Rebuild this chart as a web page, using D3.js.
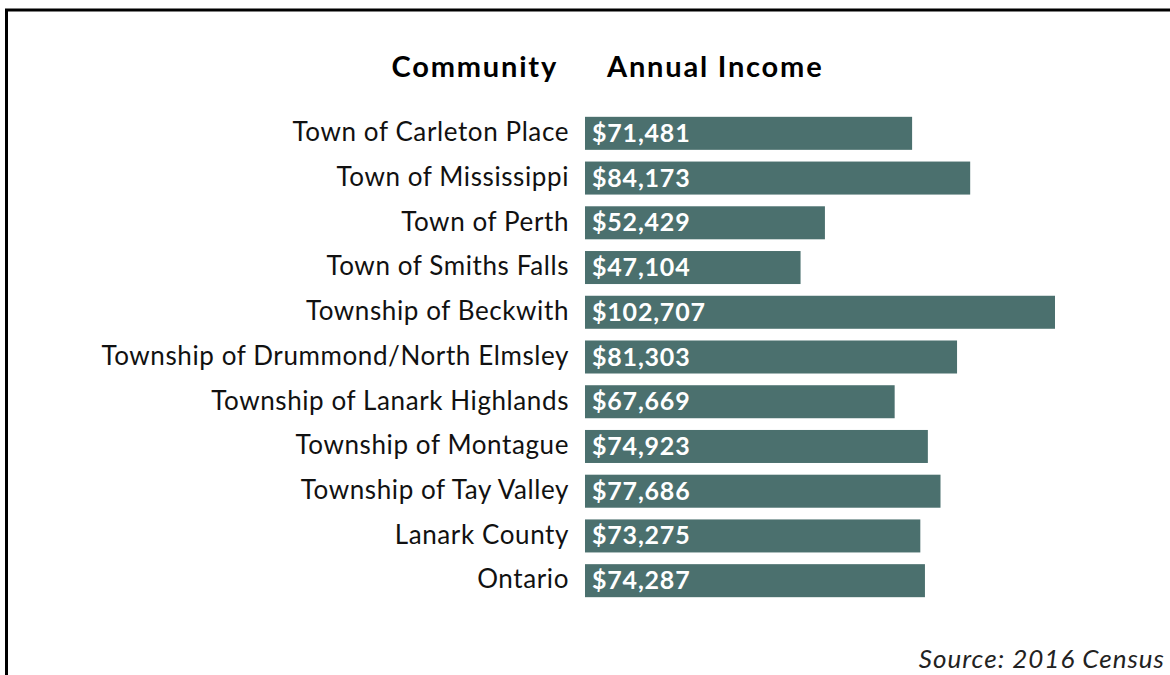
<!DOCTYPE html>
<html>
<head>
<meta charset="utf-8">
<script src="https://cdn.jsdelivr.net/npm/d3@7"></script>
<style>
	body { margin: 0; background: #fff; }
	svg { display: block; font-family: Lato, "Noto Sans", sans-serif; }
</style>
</head>
<body>
<div class="chart"></div>
<script>
const communities = [
	"Town of Carleton Place",
	"Town of Mississippi",
	"Town of Perth",
	"Town of Smiths Falls",
	"Township of Beckwith",
	"Township of Drummond/North Elmsley",
	"Township of Lanark Highlands",
	"Township of Montague",
	"Township of Tay Valley",
	"Lanark County",
	"Ontario"
];
const incomes = [71481, 84173, 52429, 47104, 102707, 81303, 67669, 74923, 77686, 73275, 74287];

(function() {
	const width = 1170, height = 675;
	const barColor = "#4b706e";

	const svg = d3.select(".chart").append("svg")
		.attr("width", width)
		.attr("height", height);

	// frame, only left and top edges show
	svg.append("rect")
		.attr("x", 6.5)
		.attr("y", 10)
		.attr("width", width + 20)
		.attr("height", height + 20)
		.attr("fill", "none")
		.attr("stroke", "#000")
		.attr("stroke-width", 3);

	const x = d3.scaleLinear()
		.domain([0, d3.max(incomes)])
		.range([585, 1055]);

	const y = d3.scaleBand()
		.domain(communities)
		.range([111, 603])
		.paddingInner(0.262)
		.paddingOuter(0.13);

	const rows = svg.selectAll(".row")
		.data(communities.map((c, i) => ({name: c, value: incomes[i]})))
		.enter().append("g")
		.attr("class", "row");

	rows.append("rect")
		.attr("x", x(0))
		.attr("y", d => y(d.name))
		.attr("width", d => x(d.value) - x(0))
		.attr("height", y.bandwidth())
		.attr("fill", barColor);

	rows.append("text")
		.attr("x", 569)
		.attr("y", d => y(d.name) + y.bandwidth() / 2)
		.attr("dy", ".3em")
		.style("text-anchor", "end")
		.style("font-size", "26px")
		.style("letter-spacing", "0.6px")
		.attr("fill", "#111")
		.text(d => d.name);

	rows.append("text")
		.attr("x", x(0) + 7)
		.attr("y", d => y(d.name) + y.bandwidth() / 2)
		.attr("dy", ".34em")
		.style("font-size", "25px")
		.style("font-weight", "bold")
		.style("letter-spacing", "0.8px")
		.attr("fill", "#fff")
		.text(d => "$" + d3.format(",")(d.value));

	svg.append("text")
		.attr("x", 558)
		.attr("y", 77)
		.style("text-anchor", "end")
		.style("font-size", "29px")
		.style("font-weight", "bold")
		.style("letter-spacing", "1.8px")
		.text("Community");

	svg.append("text")
		.attr("x", 607)
		.attr("y", 77)
		.style("font-size", "29px")
		.style("font-weight", "bold")
		.style("letter-spacing", "1.8px")
		.text("Annual Income");

	svg.append("text")
		.attr("x", 1165)
		.attr("y", 668)
		.style("text-anchor", "end")
		.style("font-size", "26px")
		.style("font-style", "italic")
		.style("letter-spacing", "1px")
		.attr("fill", "#222")
		.text("Source: 2016 Census");
})();
</script>
</body>
</html>
